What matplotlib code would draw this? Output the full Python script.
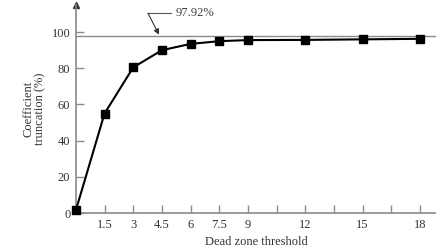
import matplotlib
matplotlib.use("Agg")
import matplotlib.pyplot as plt

plt.rcParams['font.family'] = ['Liberation Serif', 'DejaVu Serif']

threshold = [0, 1.5, 3, 4.5, 6, 7.5, 9, 12, 15, 18]
truncation = [1.5, 55, 80.5, 90, 93.5, 95, 95.6, 95.7, 96, 96.3]
limit = 97.92

xticks = [1.5, 3, 4.5, 6, 7.5, 9, 10.5, 12, 13.5, 15, 16.5, 18]
xticklabels = ['1.5', '3', '4.5', '6', '7.5', '9', '', '12', '', '15', '', '18']
yticks = [0, 20, 40, 60, 80, 100]

axcol = '#8a8a8a'

fig = plt.figure(figsize=(4.36, 2.5), dpi=100)
ax = fig.add_axes([0.174, 0.148, 0.826, 0.832])

ax.axhline(limit, color=axcol, lw=1.0, zorder=1)
ax.plot(threshold, truncation, color='black', lw=1.5, marker='s', ms=6,
        zorder=3, clip_on=False)

ax.set_xlim(0, 18.84)
ax.set_ylim(0, 115)
ax.set_xticks(xticks)
ax.set_xticklabels(xticklabels)
ax.set_yticks(yticks)

for s in ['top', 'right']:
    ax.spines[s].set_visible(False)
for s in ['left', 'bottom']:
    ax.spines[s].set_color(axcol)
    ax.spines[s].set_linewidth(1.2)
ax.tick_params(direction='in', length=6, width=1, color=axcol,
               labelsize=9, labelcolor='#333333', pad=4)

# arrow head on y axis
ax.plot(0, 1, marker='^', ms=5, color='#333333', transform=ax.transAxes,
        clip_on=False)

# leader for the 97.92% line
ax.plot([5.0, 3.77], [110.5, 110.5], color='#555555', lw=0.8, clip_on=False)
ax.annotate('', xy=(4.35, 98.6), xytext=(3.77, 110.5),
            arrowprops=dict(arrowstyle='-|>', color='#333333', lw=0.8,
                            mutation_scale=8, shrinkA=0, shrinkB=0))
ax.text(5.2, 110.5, '97.92%', fontsize=9, color='#444444', va='center')

ax.set_ylabel('Coefficient\ntruncation (%)', fontsize=9, color='#333333',
              linespacing=1.0, labelpad=4)
ax.set_xlabel('Dead zone threshold', fontsize=9, color='#333333', labelpad=4)

fig.savefig('out.png', dpi=100)
